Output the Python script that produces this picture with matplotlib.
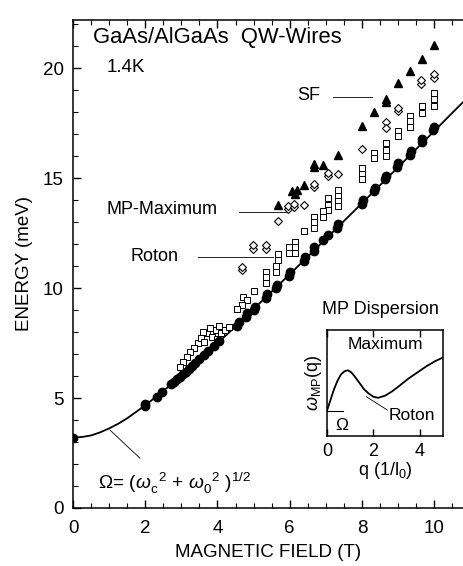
import matplotlib
matplotlib.use('Agg')
import matplotlib.pyplot as plt
from matplotlib.ticker import MultipleLocator

plt.rcParams['font.family'] = ['Liberation Sans', 'DejaVu Sans']
plt.rcParams['mathtext.fontset'] = 'custom'
plt.rcParams['mathtext.rm'] = 'Liberation Sans'
plt.rcParams['mathtext.it'] = 'Liberation Sans:italic'
plt.rcParams['mathtext.bf'] = 'Liberation Sans:bold'

FONTSIZE = 13.5

# Omega curve
curve_B = [0, 0.25, 0.5, 0.75, 1.0, 1.25, 1.5, 2.0, 2.5, 3.0, 3.5, 4.0, 4.5,
           5.0, 5.5, 6.0, 6.5, 7.0, 7.5, 8.0, 8.5, 9.0, 9.5, 10.0, 10.5, 10.8]
curve_E = [3.20, 3.23, 3.30, 3.44, 3.62, 3.83, 4.08, 4.67, 5.32, 6.01, 6.74,
           7.49, 8.26, 9.05, 9.84, 10.63, 11.43, 12.24, 13.05, 13.86, 14.68,
           15.50, 16.32, 17.14, 17.97, 18.46]

# filled circles (on the curve)
dot_B = [0, 2.0, 2.0, 2.33, 2.47, 2.72, 2.8, 2.88, 2.95, 3.05, 3.12, 3.22, 3.3,
         3.38, 3.5, 3.62, 3.75, 3.9, 4.05, 4.55, 4.6, 4.8, 4.82, 5.0, 5.03,
         5.35, 5.36, 5.63, 5.65, 5.98, 6.0, 6.4, 6.42, 6.66, 6.68, 6.93, 7.07,
         7.3, 7.33, 8.0, 8.02, 8.33, 8.35, 8.65, 8.67, 8.98, 9.01, 9.33, 9.35,
         9.66, 9.67, 9.98, 10.0]
dot_E = [3.2, 4.62, 4.72, 5.05, 5.28, 5.62, 5.74, 5.85, 5.95, 6.09, 6.19, 6.34,
         6.46, 6.58, 6.76, 6.94, 7.13, 7.36, 7.59, 8.3, 8.45, 8.7, 8.85, 9.0,
         9.15, 9.55, 9.72, 10.0, 10.15, 10.55, 10.72, 11.25, 11.4, 11.7, 11.85,
         12.2, 12.44, 12.75, 12.9, 13.85, 14.0, 14.4, 14.55, 14.95, 15.1, 15.5,
         15.68, 16.08, 16.25, 16.65, 16.8, 17.2, 17.35]

# open squares
sq_B = [10.0, 10.0, 10.0, 9.66, 9.66, 9.34, 9.34, 9.34, 9.0, 9.0, 8.66, 8.66,
        8.66, 8.34, 8.34, 8.01, 8.01, 8.01, 7.33, 7.33, 7.33, 7.33, 7.07, 7.07,
        7.07, 6.93, 6.93, 6.68, 6.68, 6.68, 6.41, 6.15, 6.15, 6.15, 5.99, 5.99,
        5.69, 5.69, 5.62, 5.62, 5.34, 5.34, 5.34, 5.02, 4.72, 4.81, 4.67, 4.53,
        3.45, 3.55, 3.62, 3.7, 3.8, 3.85, 3.95, 4.05, 4.1, 4.2, 4.33, 3.35, 3.25,
        3.15, 3.05, 2.95, 4.0, 3.6]
sq_E = [18.9, 18.6, 18.3, 18.3, 17.95, 17.85, 17.6, 17.35, 17.15, 16.9, 16.6,
        16.3, 16.0, 16.15, 15.9, 15.45, 15.2, 14.95, 14.45, 14.2, 13.95, 13.75,
        14.1, 13.8, 13.55, 13.5, 13.25, 13.25, 13.0, 12.75, 12.6, 12.1, 11.85,
        11.6, 11.85, 11.6, 11.55, 11.3, 11.0, 10.75, 10.75, 10.5, 10.25, 9.85,
        9.6, 9.45, 9.25, 9.05, 7.5, 7.75, 7.55, 7.95, 8.2, 7.8, 8.1, 8.3, 7.95,
        8.1, 8.25, 7.3, 7.1, 6.85, 6.65, 6.4, 7.7, 8.0]

# open diamonds
dia_B = [5.67, 5.96, 5.96, 6.13, 6.13, 6.41, 6.66, 6.66, 7.07, 7.07, 7.33,
         4.99, 4.99, 5.34, 5.34, 4.67, 4.67, 8.0, 8.66, 8.66, 8.99, 8.99, 9.64,
         9.64, 10.01, 10.01]
dia_E = [13.06, 13.6, 13.74, 13.7, 13.84, 13.8, 14.6, 14.75, 15.1, 15.25, 15.21,
         11.8, 11.95, 11.8, 11.95, 10.82, 10.97, 16.35, 17.56, 17.3, 18.05, 18.2,
         19.3, 19.45, 19.57, 19.72]

# filled triangles
tri_B = [5.69, 6.06, 6.15, 6.2, 6.41, 6.68, 6.68, 6.93, 7.35, 8.01, 8.34, 8.67,
         8.67, 9.01, 9.34, 9.66, 10.01]
tri_E = [13.8, 14.41, 14.3, 14.45, 14.68, 15.64, 15.5, 15.62, 16.08, 17.36,
         18.01, 18.6, 18.45, 19.33, 19.9, 20.44, 21.05]

# inset: magnetoplasmon dispersion (arbitrary units)
mp_q = [0, 0.15, 0.3, 0.45, 0.6, 0.75, 0.9, 1.05, 1.2, 1.4, 1.6, 1.8, 2.0, 2.2,
        2.5, 2.8, 3.1, 3.5, 3.9, 4.3, 4.7, 5.0]
mp_w = [0.24, 0.34, 0.44, 0.52, 0.58, 0.61, 0.62, 0.6, 0.56, 0.5, 0.44, 0.4,
        0.37, 0.36, 0.38, 0.42, 0.47, 0.54, 0.6, 0.66, 0.71, 0.74]

fig = plt.figure(figsize=(4.63, 5.66), dpi=100)
ax = fig.add_axes([0.1577, 0.1025, 0.8423, 0.8622])

ax.plot(curve_B, curve_E, '-', color='black', lw=1.3, zorder=2)
ax.plot(sq_B, sq_E, 's', ms=4.3, mfc='white', mec='black', mew=0.7, zorder=3)
ax.plot(dia_B, dia_E, 'D', ms=3.8, mfc='white', mec='black', mew=0.8, zorder=3)
ax.plot(tri_B, tri_E, '^', ms=5.5, color='black', zorder=3)
ax.plot(dot_B, dot_E, 'o', ms=6, color='black', zorder=4)

ax.set_xlim(0, 10.8)
ax.set_ylim(0, 22.2)
ax.xaxis.set_major_locator(MultipleLocator(2))
ax.xaxis.set_minor_locator(MultipleLocator(0.5))
ax.yaxis.set_major_locator(MultipleLocator(5))
ax.yaxis.set_minor_locator(MultipleLocator(1))
ax.tick_params(which='both', direction='in', top=True, right=False,
               labelsize=FONTSIZE)
ax.tick_params(which='major', length=6, width=1)
ax.tick_params(which='minor', length=3.5, width=0.8)
ax.tick_params(axis='x', which='major', pad=9)
ax.tick_params(axis='y', which='major', pad=6.5)
ax.spines['right'].set_visible(False)
for s in ['left', 'bottom', 'top']:
    ax.spines[s].set_linewidth(1.1)
ax.set_xlabel('MAGNETIC FIELD (T)', fontsize=FONTSIZE, labelpad=5)
ax.set_ylabel('ENERGY (meV)', fontsize=FONTSIZE, labelpad=7)

ax.text(0.55, 21.4, 'GaAs/AlGaAs  QW-Wires', fontsize=15.8, va='center')
ax.text(0.94, 20.06, '1.4K', fontsize=13.5, va='center')

# labels with leader lines
ax.text(6.84, 18.75, 'SF', fontsize=13, ha='right', va='center')
ax.plot([7.2, 8.28], [18.68, 18.68], color='black', lw=0.6)
ax.text(3.99, 13.6, 'MP-Maximum', fontsize=13, ha='right', va='center')
ax.plot([4.6, 5.96], [13.47, 13.47], color='black', lw=0.6)
ax.text(2.92, 11.45, 'Roton', fontsize=13, ha='right', va='center')
ax.plot([3.46, 5.54], [11.4, 11.4], color='black', lw=0.6)

ax.plot([1.02, 1.85], [3.55, 2.27], color='black', lw=0.6)
ax.text(0.69, 1.1, r'$\Omega$= ($\omega_{\rm c}^{\ \ 2}$ + $\omega_0^{\ \ 2}$ )$^{1/2}$',
        fontsize=13.8, va='center')

# inset
ax.text(6.9, 9.05, 'MP Dispersion', fontsize=13, va='center')
ins = fig.add_axes([0.7063, 0.2297, 0.2505, 0.1873])
ins.plot(mp_q, mp_w, '-', color='black', lw=1.3)
ins.plot([0, 0.7], [0.24, 0.24], color='black', lw=0.8)
ins.set_xlim(0, 5.0)
ins.set_ylim(0, 1)
ins.set_xticks([0, 2, 4])
ins.set_yticks([])
ins.tick_params(direction='in', top=True, labelsize=13, length=5, width=1,
                pad=5)
ins.set_xlabel(r'q (1/l$_0$)', fontsize=13, labelpad=0)
ins.set_ylabel(r'$\omega_{\rm MP}$(q)', fontsize=13, labelpad=2)
ins.text(0.35, 0.1, r'$\Omega$', fontsize=12.5, va='center')
ins.text(0.9, 0.86, 'Maximum', fontsize=12.5, va='center')
ins.text(2.65, 0.19, 'Roton', fontsize=12.5, va='center')
ins.plot([1.7, 2.6], [0.37, 0.245], color='black', lw=0.6)
for s in ins.spines.values():
    s.set_linewidth(1.1)

plt.savefig('out.png', dpi=100)
